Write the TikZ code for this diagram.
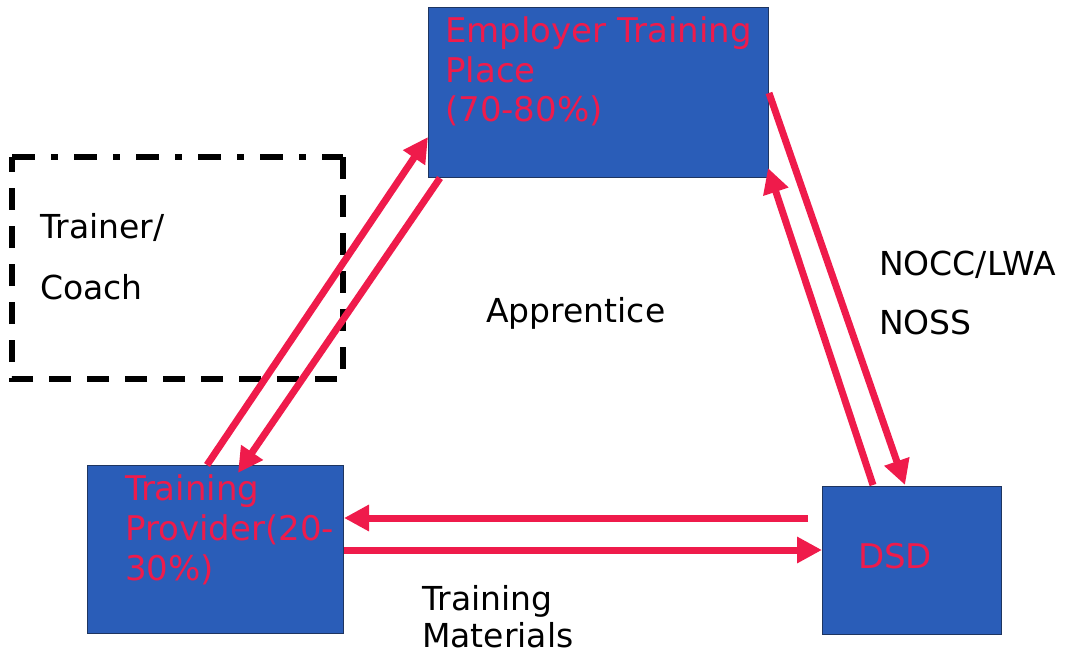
\documentclass[tikz,border=0pt]{standalone}
\usepackage{fontspec}
\setmainfont{DejaVu Sans}
\usetikzlibrary{arrows.meta,calc}
\definecolor{boxblue}{HTML}{2A5DB8}
\definecolor{boxedge}{HTML}{1E3560}
\definecolor{arrred}{HTML}{EF1B4B}
\tikzset{
  box/.style={draw=boxedge, line width=1pt, fill=boxblue, anchor=north west, inner sep=0pt},
  redtxt/.style={text=arrred, anchor=base west, inner sep=0pt, font=\fontsize{34}{40}\selectfont},
  blktxt/.style={text=black, anchor=base west, inner sep=0pt, font=\fontsize{33}{40}\selectfont},
  arr/.style={draw=arrred, line width=7pt, -{Triangle[length=25pt,width=25pt]}},
  dashbox/.style={draw=black, line width=6.5pt, dash pattern=on 22pt off 16pt},
  dashdotbox/.style={draw=black, line width=6.5pt, dash pattern=on 23pt off 16pt on 7pt off 16pt}
}
\begin{document}
\begin{tikzpicture}[x=1pt,y=-1pt]
\useasboundingbox (0,0) rectangle (1076,655);
% boxes
\node[box, minimum width=340pt, minimum height=170pt] (emp) at (428,7) {};
\node[box, minimum width=256pt, minimum height=168pt] (tp) at (87,465) {};
\node[box, minimum width=179pt, minimum height=148pt] (dsd) at (822,486) {};
% dashed trainer box
\coordinate (dtl) at (12,157);
\coordinate (dtr) at (343,157);
\coordinate (dbr) at (343,379);
\coordinate (dbl) at (12,379);
\draw[dashdotbox] (dtl) -- (dtr);
\draw[dashbox] (dtr) -- (dbr) -- (dbl) -- (dtl);
% texts
\node[redtxt] (e1) at (445,43) {Employer Training};
\node[redtxt] (e2) at (445,83) {Place};
\node[redtxt] (e3) at (445,122) {(70-80\%)};
\node[redtxt] (t1) at (125,500) {Training};
\node[redtxt] (t2) at (125,540) {Provider(20-};
\node[redtxt] (t3) at (125,580) {30\%)};
\node[redtxt] (d1) at (858,568) {DSD};
\node[blktxt] (c1) at (40,238) {Trainer/};
\node[blktxt] (c2) at (40,299) {Coach};
\node[blktxt] (ap) at (486,322) {Apprentice};
\node[blktxt] (n1) at (879,275) {NOCC/LWA};
\node[blktxt] (n2) at (879,334) {NOSS};
\node[blktxt] (m1) at (422,610) {Training};
\node[blktxt] (m2) at (422,647) {Materials};
% arrows
\draw[arr] ($(tp.north west)+(120,0)$) -- ($(emp.north west)+(0,130)$);
\draw[arr] ($(emp.south west)+(12,0)$) -- ($(tp.north west)+(151,8)$);
\draw[arr] ($(emp.north east)+(0,86)$) -- ($(dsd.north west)+(83,-1)$);
\draw[arr] ($(dsd.north west)+(51,-1)$) -- ($(emp.north east)+(-1,161)$);
\draw[arr] ($(dsd.north west)+(-14,32)$) -- ($(tp.north east)+(0,53)$);
\draw[arr] ($(tp.north east)+(0,85)$) -- ($(dsd.north west)+(0,64)$);
\end{tikzpicture}
\end{document}
